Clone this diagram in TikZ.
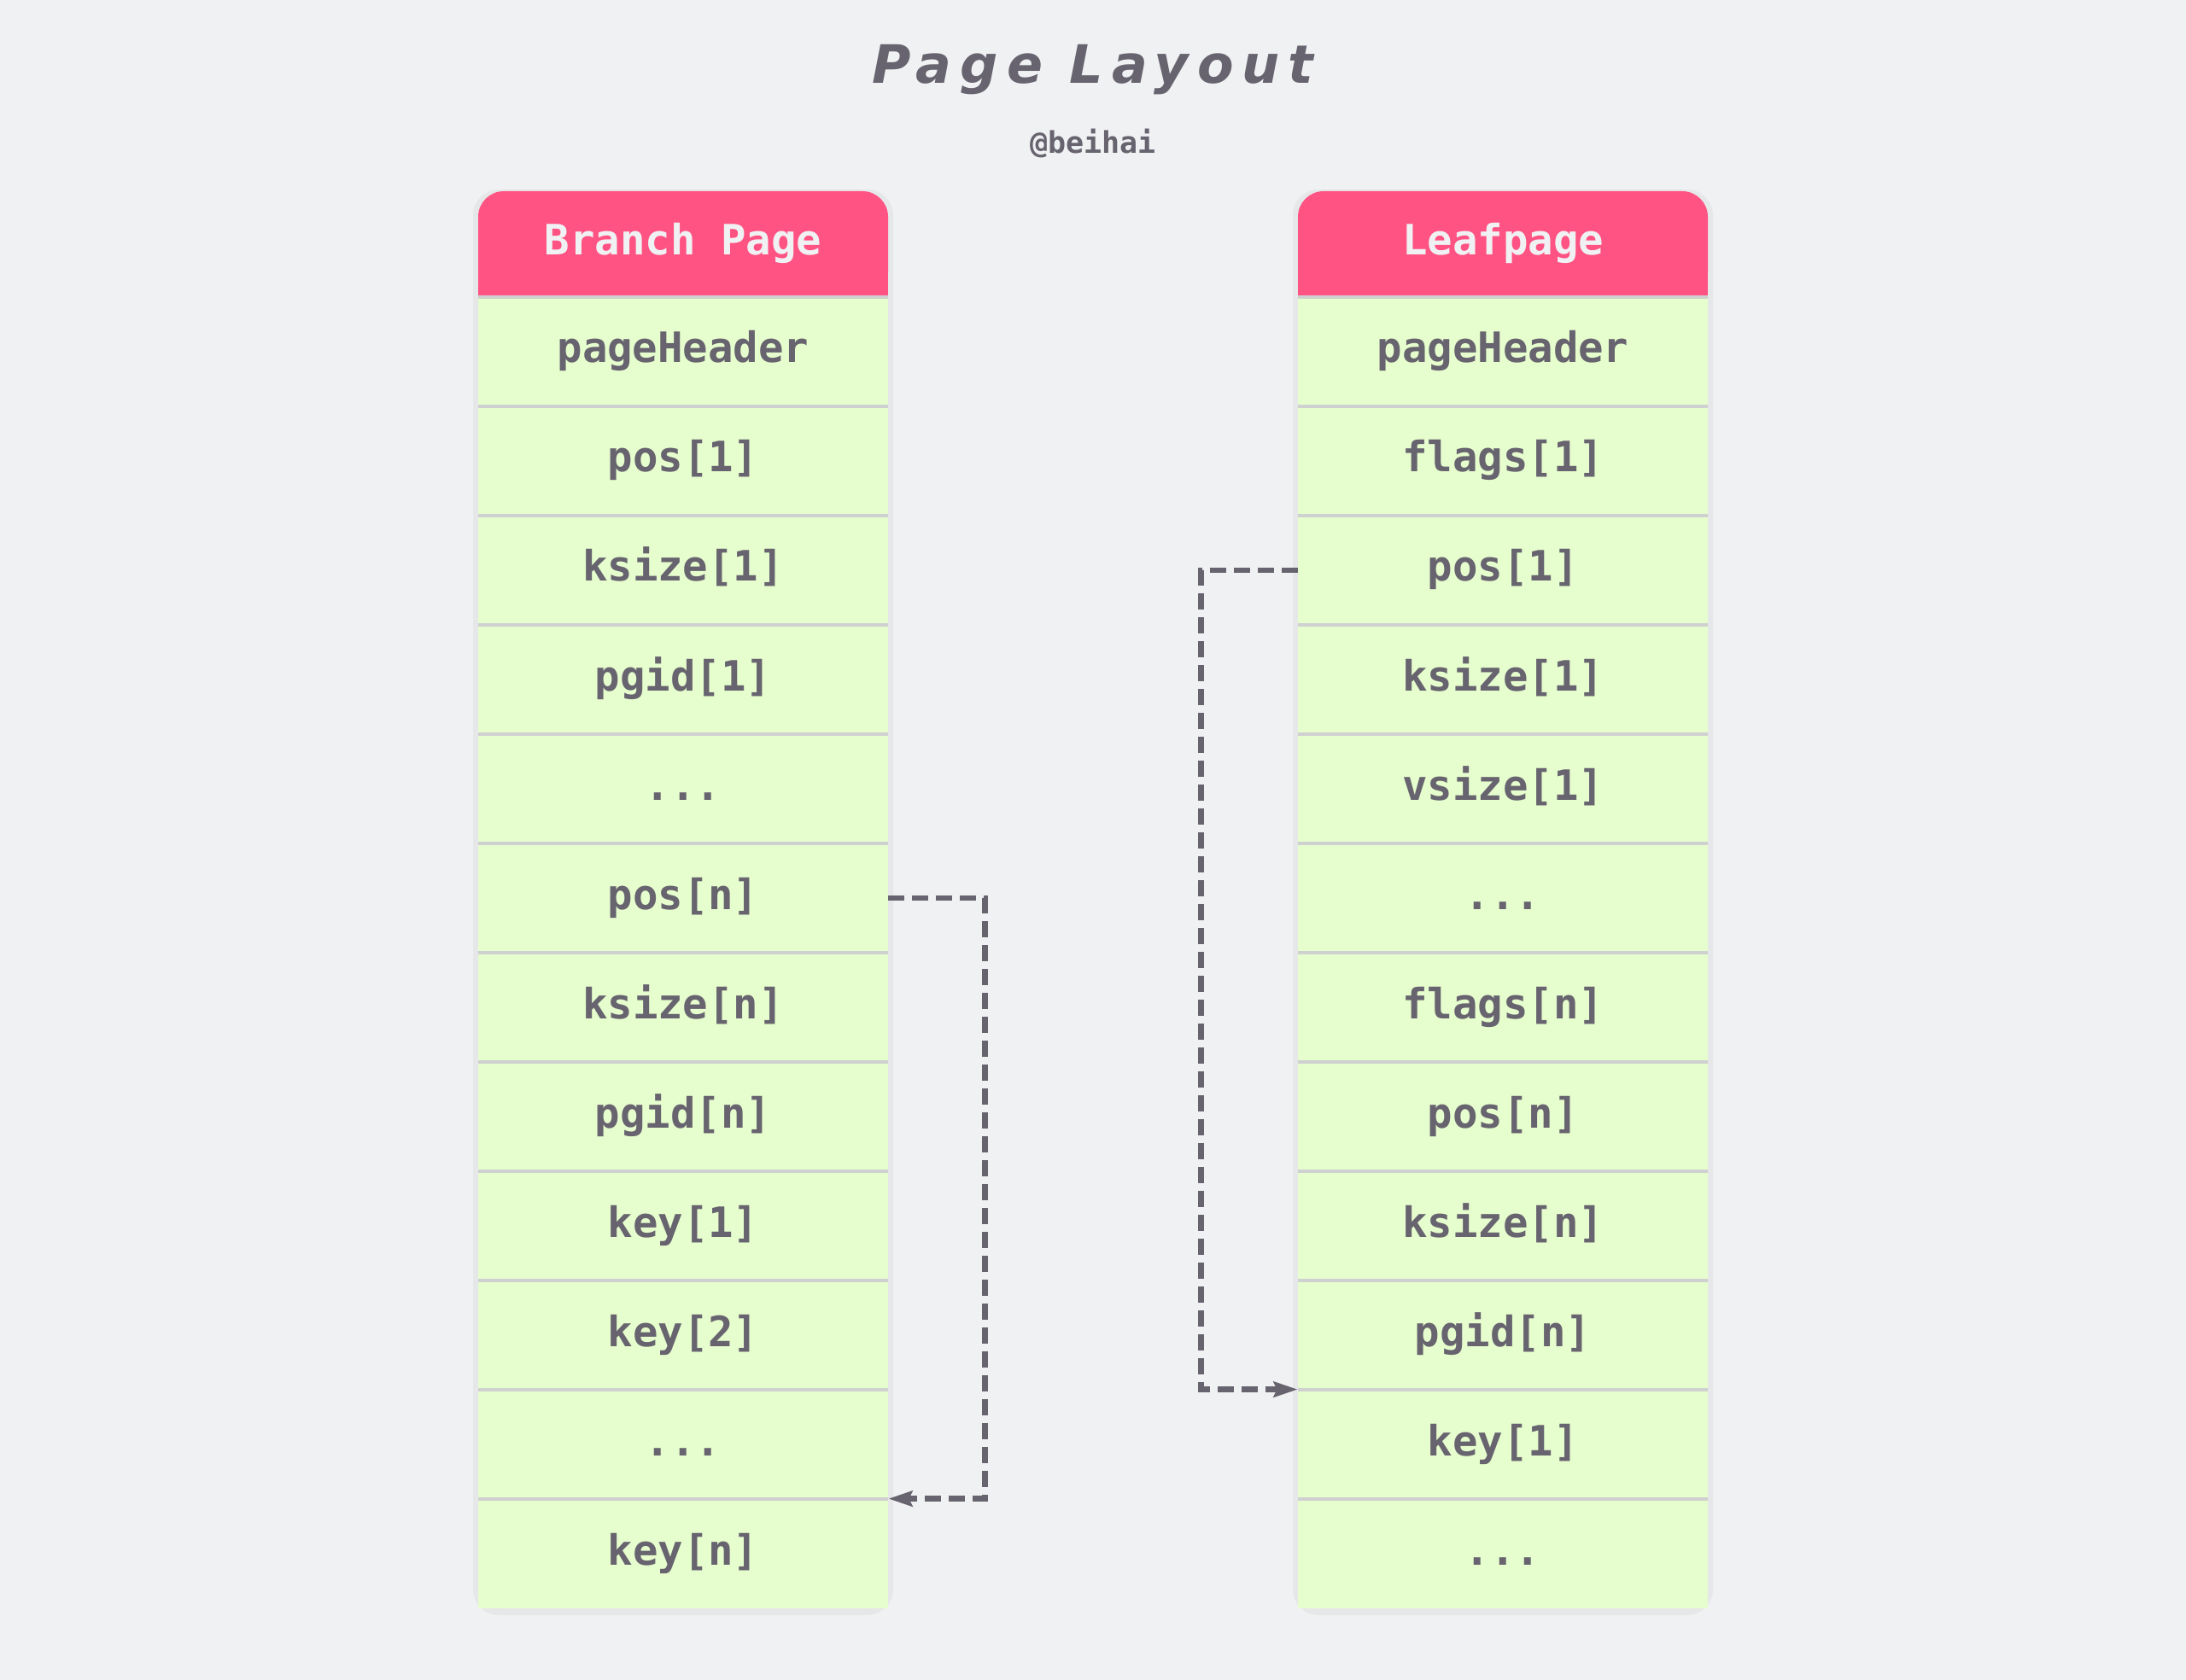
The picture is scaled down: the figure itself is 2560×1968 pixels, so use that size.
\documentclass[tikz,border=0pt]{standalone}
\usepackage{fontspec}
\usetikzlibrary{arrows.meta}
\newfontfamily\cellfont{DejaVu Sans Mono}
\newfontfamily\titlefont{DejaVu Sans}[LetterSpace=16]
\newcommand\tridots{...}
\definecolor{bg}{HTML}{F0F1F3}
\definecolor{ink}{HTML}{67646F}
\definecolor{hdrpink}{HTML}{FF5383}
\definecolor{cellgreen}{HTML}{E6FDCD}
\definecolor{sepgray}{HTML}{CFD0D0}
\begin{document}
\begin{tikzpicture}[x=0.5pt,y=-0.5pt,
  cell/.style={minimum width=240pt, minimum height=64pt, inner sep=0pt, fill=cellgreen, text=ink,
    text height=18pt, text depth=5pt,
    font=\cellfont\bfseries\fontsize{24.5pt}{28pt}\selectfont},
  hdrbox/.style={minimum width=240pt, minimum height=62pt, inner sep=0pt, fill=hdrpink, rounded corners=15pt},
  hdrtext/.style={inner sep=0pt, text=bg, text height=18pt, text depth=5pt,
    font=\cellfont\bfseries\fontsize{24.5pt}{28pt}\selectfont},
  sepline/.style={draw=sepgray, line width=2pt},
  colshadow/.style={fill=black, opacity=0.04},
  conn/.style={draw=ink, line width=3.2pt, dash pattern=on 9.5pt off 4.5pt,
    -{Stealth[length=14pt,width=9pt,inset=2pt]}}]
\useasboundingbox (0,0) rectangle (2560,1968);
\fill[bg] (0,0) rectangle (2560,1968);
% title
\node[text=ink, font=\titlefont\bfseries\itshape\fontsize{31pt}{36pt}\selectfont] (title) at (1280,82) {Page Layout};
\node[text=ink, font=\cellfont\bfseries\fontsize{17.5pt}{20pt}\selectfont] (author) at (1280,168) {@beihai};
% shadows
\fill[colshadow, rounded corners=15pt] (554,222) rectangle (1046,1892);
\fill[colshadow, rounded corners=15pt] (1514,222) rectangle (2006,1892);
% left column
\node[hdrbox] (bhbox) at (800,286) {};
\fill[hdrpink] (bhbox.west) rectangle (bhbox.south east);
\node[hdrtext] (bh) at (bhbox.center) {Branch Page};
\foreach \t [count=\i] in {{pageHeader},{pos[1]},{ksize[1]},{pgid[1]},{\tridots},{pos[n]},{ksize[n]},{pgid[n]},{key[1]},{key[2]},{\tridots},{key[n]}}{
  \node[cell] (b\i) at (800,{412+128*(\i-1)}) {\t};
  \draw[sepline] (b\i.north west) -- (b\i.north east);
}
% right column
\node[hdrbox] (lhbox) at (1760,286) {};
\fill[hdrpink] (lhbox.west) rectangle (lhbox.south east);
\node[hdrtext] (lh) at (lhbox.center) {Leafpage};
\foreach \t [count=\i] in {{pageHeader},{flags[1]},{pos[1]},{ksize[1]},{vsize[1]},{\tridots},{flags[n]},{pos[n]},{ksize[n]},{pgid[n]},{key[1]},{\tridots}}{
  \node[cell] (l\i) at (1760,{412+128*(\i-1)}) {\t};
  \draw[sepline] (l\i.north west) -- (l\i.north east);
}
% connectors
\draw[conn] (b6.east) -- ++(113,0) |- (b12.north east);
\draw[conn] (l3.west) -- ++(-113,0) |- (l11.north west);
\end{tikzpicture}
\end{document}
